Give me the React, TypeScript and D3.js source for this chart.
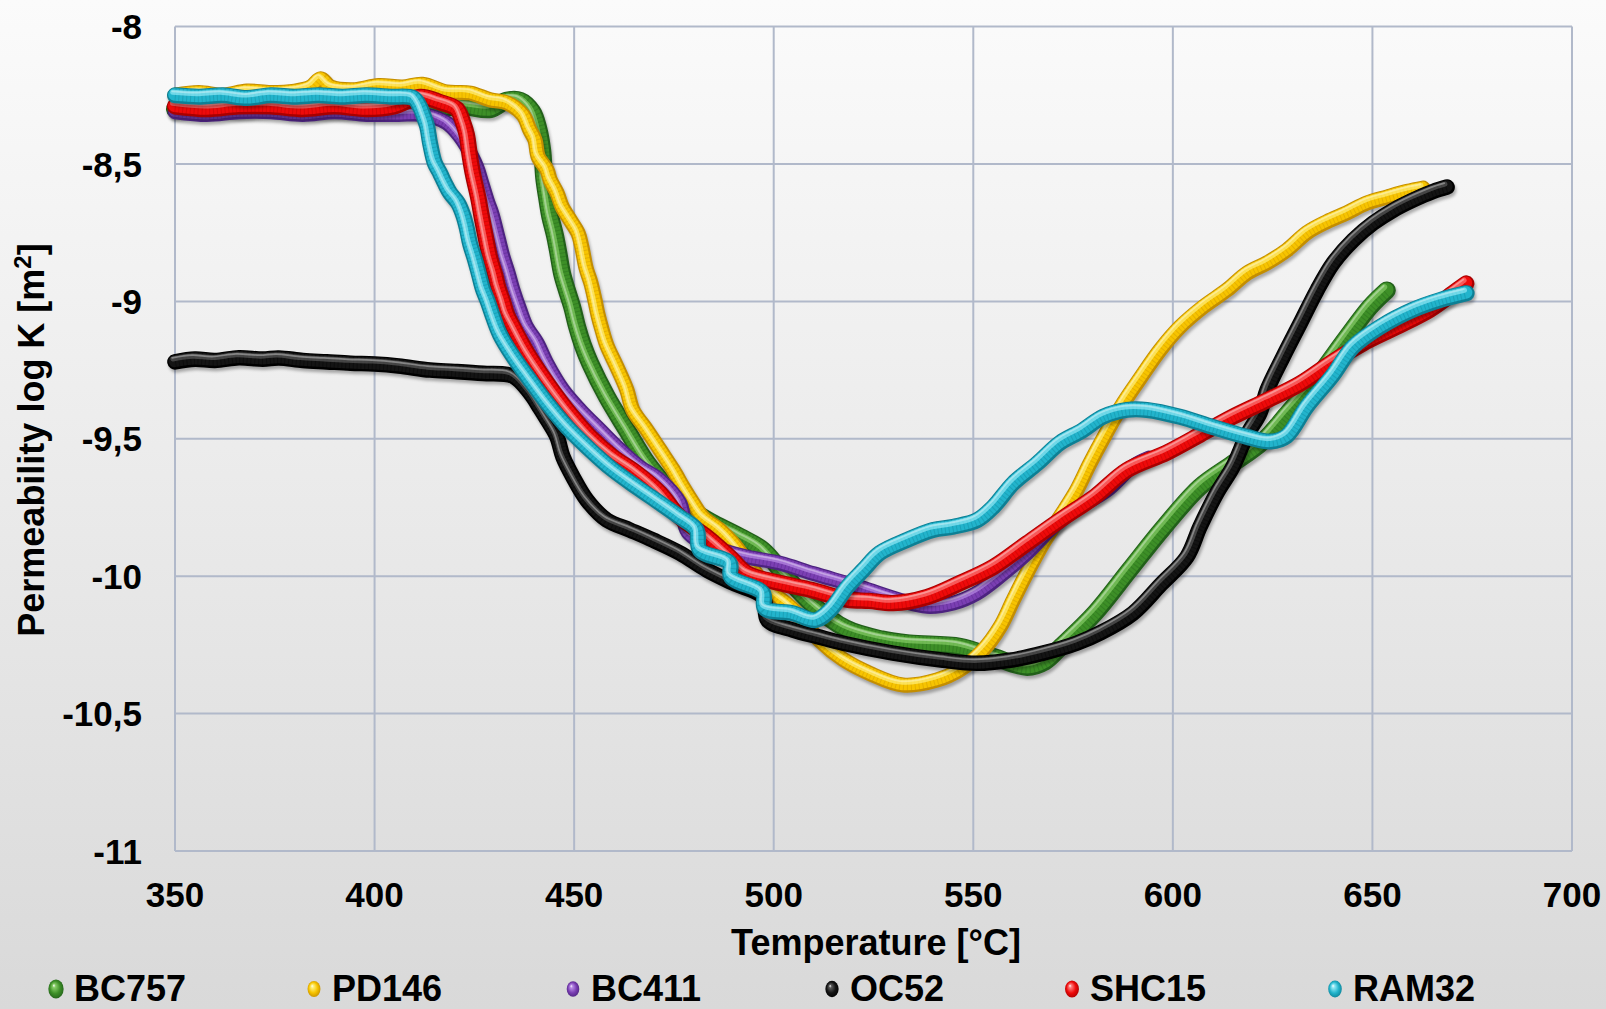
import React, { useEffect } from "react";
import * as d3 from "d3";

type Pt = [number, number];

// axis ticks
const xTicks = [350, 400, 450, 500, 550, 600, 650, 700];
const yTicks = [-8, -8.5, -9, -9.5, -10, -10.5, -11];

// series: [temperature °C, log K]
const BC757: Pt[] = [
  [350, -8.3], [358, -8.29], [366, -8.3], [374, -8.29], [382, -8.3], [390, -8.3], [398, -8.3],
  [406, -8.3], [414, -8.3], [422, -8.29], [429, -8.3], [433, -8.27], [436.5, -8.27], [439.5, -8.31],
  [441, -8.37], [442, -8.45], [442.5, -8.55], [443.2, -8.62], [444, -8.69], [445.2, -8.76],
  [446, -8.82], [447, -8.9], [448.2, -8.96], [449.5, -9.02], [450.7, -9.09], [452.2, -9.16],
  [454, -9.225], [458.2, -9.347], [463.2, -9.468], [468.3, -9.588], [473.3, -9.676], [478.3, -9.748],
  [484.8, -9.807], [491.6, -9.857], [497.3, -9.905], [503, -10.0], [509.5, -10.1], [518, -10.19],
  [527, -10.23], [534, -10.245], [546.7, -10.257], [555, -10.294], [563.5, -10.33], [568, -10.31],
  [571.7, -10.26], [580.5, -10.134], [589, -9.98], [597.5, -9.826], [606.8, -9.675], [615, -9.59],
  [622.5, -9.51], [628.6, -9.41], [635, -9.3], [643.6, -9.13], [649.4, -9.02], [653.6, -8.96],
];

const PD146: Pt[] = [
  [350, -8.25], [356, -8.24], [362, -8.25], [368, -8.235], [374, -8.24], [380, -8.235], [384, -8.22],
  [386.5, -8.19], [389, -8.22], [395, -8.23], [401, -8.215], [407, -8.22], [412, -8.21], [418, -8.238],
  [424, -8.242], [429, -8.267], [433.2, -8.278], [437.2, -8.322], [438.9, -8.376], [440.2, -8.413],
  [441, -8.474], [443.2, -8.522], [444, -8.558], [445.7, -8.605], [447, -8.656], [449, -8.704],
  [451, -8.752], [451.9, -8.8], [453, -8.879], [454.2, -8.933], [455.2, -8.995], [456, -9.05],
  [457, -9.104], [458.2, -9.16], [460.7, -9.238], [463.2, -9.322], [464.7, -9.395], [468.2, -9.468],
  [471.5, -9.54], [474.8, -9.613], [477.3, -9.676], [479.8, -9.734], [482.3, -9.786], [486.5, -9.832],
  [489.8, -9.88], [494, -9.96], [499, -10.05], [504.8, -10.12], [511.6, -10.235], [517.4, -10.303],
  [524.1, -10.354], [532.4, -10.396], [540.9, -10.378], [546.7, -10.34], [552.4, -10.27],
  [556.7, -10.185], [560, -10.087], [563.4, -9.989], [567.5, -9.88], [571.7, -9.785], [575.9, -9.687],
  [579.2, -9.59], [583, -9.487], [587.6, -9.37], [591.8, -9.28], [596.8, -9.177], [601.8, -9.093],
  [607.6, -9.02], [613.6, -8.958], [618.6, -8.897], [623.6, -8.86], [628.6, -8.813], [633.6, -8.75],
  [638.6, -8.71], [643.6, -8.678], [648.6, -8.642], [653.7, -8.62], [658.7, -8.6], [662.7, -8.588],
];

const BC411: Pt[] = [
  [350, -8.31], [358, -8.32], [366, -8.31], [374, -8.31], [382, -8.32], [390, -8.31], [398, -8.32],
  [406, -8.32], [412, -8.32], [418, -8.35], [421.4, -8.4], [423.1, -8.438], [425.6, -8.51],
  [426.9, -8.57], [428.4, -8.64], [429.4, -8.68], [431, -8.77], [432.2, -8.838], [433.5, -8.897],
  [434.7, -8.958], [436.4, -9.03], [438.1, -9.093], [440.7, -9.15], [443.2, -9.226], [447.2, -9.322],
  [451.5, -9.395], [456.5, -9.468], [461.5, -9.54], [466.5, -9.603], [471.5, -9.65], [476.5, -9.734],
  [478.5, -9.84], [484.8, -9.894], [493.3, -9.93], [501.6, -9.953], [509.8, -9.99], [521.6, -10.04],
  [531.6, -10.087], [538.4, -10.11], [545, -10.098], [550.9, -10.062], [556.7, -10.0], [563.5, -9.916],
  [570, -9.82], [576.7, -9.748], [583.5, -9.687], [590, -9.6], [594, -9.57],
];

const OC52: Pt[] = [
  [350, -9.22], [355, -9.21], [360, -9.215], [366, -9.205], [372, -9.21], [376, -9.206], [382, -9.215],
  [388, -9.22], [394, -9.225], [400, -9.228], [406, -9.235], [413.9, -9.25], [420, -9.255],
  [427.2, -9.262], [434.7, -9.272], [438.9, -9.333], [441.5, -9.39], [443.2, -9.43], [445.7, -9.493],
  [447.2, -9.566], [449.7, -9.639], [453.2, -9.723], [458.2, -9.796], [464, -9.832], [469.8, -9.869],
  [476.5, -9.916], [483.3, -9.978], [489.8, -10.025], [497.3, -10.076], [498.5, -10.16],
  [504.8, -10.196], [511, -10.22], [517.4, -10.244], [529.9, -10.28], [542.4, -10.306],
  [550.9, -10.317], [559.2, -10.306], [567.5, -10.28], [575.9, -10.244], [582, -10.205], [590, -10.135],
  [597, -10.03], [603.5, -9.93], [606.8, -9.82], [611, -9.698], [615, -9.603], [618.6, -9.485],
  [621.8, -9.406], [623.6, -9.323], [627.6, -9.202], [631.9, -9.08], [636.1, -8.96], [640.2, -8.86],
  [645.2, -8.777], [650.2, -8.715], [655.2, -8.668], [660.2, -8.631], [665.2, -8.6], [668.7, -8.584],
];

const SHC15: Pt[] = [
  [350, -8.29], [358, -8.3], [366, -8.29], [374, -8.29], [382, -8.3], [390, -8.29], [398, -8.3],
  [405, -8.29], [411.4, -8.256], [416.4, -8.275], [420.6, -8.3], [422.2, -8.35], [423.1, -8.394],
  [423.9, -8.474], [424.7, -8.54], [426, -8.624], [426.9, -8.696], [428, -8.777], [429, -8.846],
  [430.2, -8.904], [431, -8.951], [432.2, -9.002], [433.2, -9.05], [434.7, -9.093], [436.4, -9.14],
  [438.3, -9.19], [443.2, -9.297], [448.2, -9.395], [454, -9.493], [459.7, -9.566], [465.7, -9.625],
  [471.5, -9.697], [476.5, -9.785], [483.3, -9.858], [489, -9.93], [493.3, -9.99], [501.6, -10.025],
  [509.5, -10.05], [518.4, -10.085], [524, -10.09], [529.9, -10.098], [538.4, -10.076],
  [546.7, -10.025], [555, -9.967], [563.5, -9.88], [571.7, -9.796], [580.5, -9.71], [588.5, -9.614],
  [598.5, -9.55], [606.8, -9.485], [615, -9.42], [623.6, -9.36], [631.8, -9.3], [640, -9.22],
  [647.6, -9.153], [656, -9.093], [664.4, -9.03], [670.2, -8.97], [673.5, -8.935],
];

const RAM32: Pt[] = [
  [350, -8.25], [356, -8.255], [362, -8.25], [368, -8.26], [374, -8.25], [380, -8.255], [386, -8.25],
  [392, -8.255], [398, -8.25], [404, -8.255], [409.7, -8.26], [411.4, -8.293], [412.2, -8.322],
  [413.2, -8.365], [413.9, -8.424], [415.1, -8.497], [416.4, -8.533], [417.6, -8.57], [418.9, -8.605],
  [420.9, -8.642], [422.2, -8.686], [423.1, -8.733], [423.9, -8.788], [425.2, -8.85], [426.2, -8.904],
  [427.2, -8.958], [428.4, -9.002], [429.7, -9.057], [431.4, -9.12], [434.7, -9.2], [438.9, -9.286],
  [443.2, -9.37], [448.2, -9.457], [454, -9.54], [459.7, -9.613], [465.7, -9.676], [471.5, -9.734],
  [476.5, -9.785], [480.7, -9.832], [481.5, -9.905], [489, -9.953], [489.3, -10.003], [497.3, -10.062],
  [497.8, -10.117], [504.8, -10.135], [510.5, -10.16], [514.1, -10.124], [518.4, -10.04],
  [522.4, -9.978], [526.6, -9.916], [533.3, -9.869], [539.9, -9.832], [545, -9.82], [551, -9.796],
  [555, -9.748], [560, -9.662], [566, -9.59], [571.7, -9.515], [577.3, -9.47], [582.5, -9.42],
  [588.5, -9.395], [593.5, -9.395], [601.8, -9.42], [610, -9.457], [618.6, -9.493], [624.5, -9.51],
  [628.5, -9.49], [633.5, -9.384], [640, -9.27], [645.1, -9.166], [651.9, -9.093], [660.2, -9.03],
  [666.9, -8.995], [673.6, -8.97],
];

const seriesNames = ["BC757", "PD146", "BC411", "OC52", "SHC15", "RAM32"];
const seriesData = [BC757, PD146, BC411, OC52, SHC15, RAM32];

// look of each bead series
const styles = [
  { base: "#3d8f27", shade: "#22601a", light: "#86cc66", r: 9.0 },
  { base: "#f7c400", shade: "#c48e00", light: "#fff07a", r: 7.6 },
  { base: "#7b3fb3", shade: "#4d2380", light: "#b98ce6", r: 7.4 },
  { base: "#141414", shade: "#000000", light: "#5a5a5a", r: 7.8 },
  { base: "#ee0a0a", shade: "#a80000", light: "#ff7a7a", r: 8.2 },
  { base: "#22b4cc", shade: "#0d8095", light: "#92e8f5", r: 8.0 },
];

const legendX = [56, 314, 573, 832, 1072, 1335];

const W = 1606;
const H = 1009;
const FONT = "'Liberation Sans', Arial, Helvetica, sans-serif";

const x = d3.scaleLinear().domain([350, 700]).range([175, 1572]);
const y = d3.scaleLinear().domain([-11, -8]).range([851, 26.6]);

const fmtY = (v: number) => String(v).replace(".", ",");

const line = d3
  .line<Pt>()
  .x((d) => x(d[0]))
  .y((d) => y(d[1]))
  .curve(d3.curveCatmullRom.alpha(0.5));

const GAP = 3.8;

function Beads({ data, s }: { data: Pt[]; s: (typeof styles)[number] }) {
  const d = line(data) || "";
  const common = { d, fill: "none", strokeLinecap: "round" as const, strokeLinejoin: "round" as const };
  return (
    <g>
      <path {...common} stroke="rgba(0,0,0,0.3)" strokeWidth={s.r * 2} transform="translate(1.5,3)" filter="url(#blur)" />
      <path {...common} stroke={s.shade} strokeWidth={s.r * 2} />
      <path {...common} stroke={s.base} strokeWidth={s.r * 2 - 3.5} transform="translate(-0.5,-0.7)" />
      {/* bead seams */}
      <path
        d={d}
        fill="none"
        stroke={s.shade}
        strokeOpacity={0.35}
        strokeWidth={s.r * 1.85}
        strokeDasharray={`1 ${GAP - 1}`}
        strokeLinecap="butt"
      />
      <path {...common} stroke={s.light} strokeOpacity={0.7} strokeWidth={s.r * 0.65} transform={`translate(${-s.r * 0.28},${-s.r * 0.38})`} />
      <path {...common} stroke="#ffffff" strokeOpacity={0.35} strokeWidth={s.r * 0.22} transform={`translate(${-s.r * 0.36},${-s.r * 0.5})`} />
    </g>
  );
}

export default function App() {
  useEffect(() => {
    document.body.style.margin = "0";
    document.body.style.overflow = "hidden";
  }, []);

  return (
    <svg width={W} height={H} style={{ display: "block" }} fontFamily={FONT}>
      <defs>
        <linearGradient id="bg" x1="0" y1="0" x2="0" y2="1">
          <stop offset="0%" stopColor="#fbfbfb" />
          <stop offset="100%" stopColor="#d9d9d9" />
        </linearGradient>
        <filter id="blur" x="-5%" y="-5%" width="110%" height="110%">
          <feGaussianBlur stdDeviation="1.8" />
        </filter>
        {styles.map((s, i) => (
          <radialGradient key={i} id={`ball${i}`} cx="0.5" cy="0.5" r="0.55" fx="0.35" fy="0.3">
            <stop offset="0%" stopColor="#ffffff" stopOpacity={0.9} />
            <stop offset="18%" stopColor={s.light} />
            <stop offset="60%" stopColor={s.base} />
            <stop offset="100%" stopColor={s.shade} />
          </radialGradient>
        ))}
      </defs>
      <rect width={W} height={H} fill="url(#bg)" />

      {/* grid */}
      <g stroke="#b1b9ca" strokeWidth={2}>
        {xTicks.map((t) => (
          <line key={`gx${t}`} x1={x(t)} x2={x(t)} y1={y(-8)} y2={y(-11)} />
        ))}
        {yTicks.map((t) => (
          <line key={`gy${t}`} x1={x(350)} x2={x(700)} y1={y(t)} y2={y(t)} />
        ))}
      </g>

      {/* tick labels */}
      <g fontSize={35} fontWeight="bold" fill="#000">
        {yTicks.map((t) => (
          <text key={`ty${t}`} x={142} y={y(t)} dy="0.36em" textAnchor="end">
            {fmtY(t)}
          </text>
        ))}
        {xTicks.map((t) => (
          <text key={`tx${t}`} x={x(t)} y={907} textAnchor="middle">
            {t}
          </text>
        ))}
        <text x={876} y={955} textAnchor="middle" fontSize={36}>
          Temperature [°C]
        </text>
        <text transform="translate(44,440) rotate(-90)" textAnchor="middle" fontSize={36}>
          Permeability log K [m<tspan fontSize={24} dy={-13}>2</tspan>
          <tspan dy={13}>]</tspan>
        </text>
      </g>

      {/* series */}
      {seriesData.map((data, i) => (
        <Beads key={seriesNames[i]} data={data} s={styles[i]} />
      ))}

      {/* legend */}
      <g fontSize={36} fontWeight="bold" fill="#000">
        {seriesNames.map((n, i) => (
          <g key={n}>
            <ellipse
              cx={legendX[i]}
              cy={989}
              rx={styles[i].r * 0.85}
              ry={styles[i].r * 1.05}
              fill={`url(#ball${i})`}
            />
            <text x={legendX[i] + 18} y={1001}>
              {n}
            </text>
          </g>
        ))}
      </g>
    </svg>
  );
}
